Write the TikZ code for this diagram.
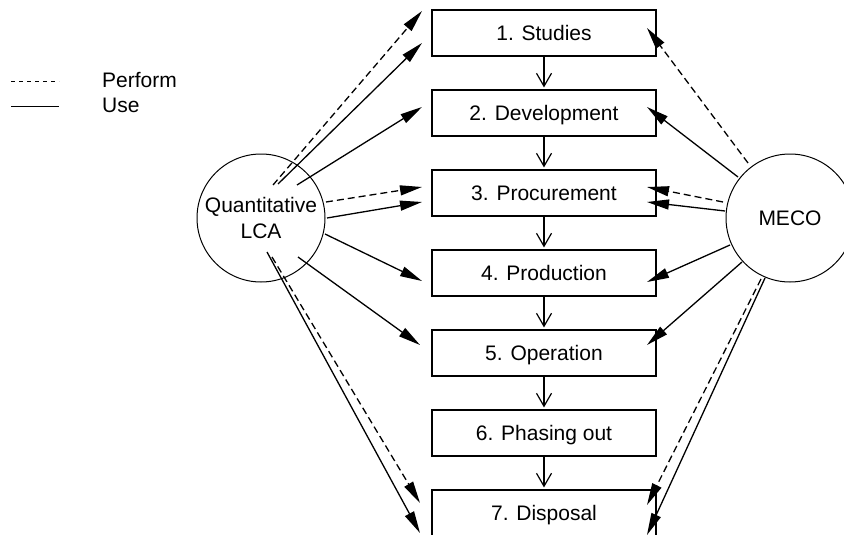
\documentclass[tikz,border=0pt]{standalone}
\usepackage{fontspec}
\setmainfont{Liberation Sans}
\usetikzlibrary{arrows.meta}
\begin{document}
\begin{tikzpicture}[x=1pt,y=-1pt,
  every node/.style={font=\fontsize{21}{25.5}\selectfont},
  stage/.style={draw, line width=1.1pt, minimum width=224pt, minimum height=46pt,
    inner sep=0pt, text height=15pt, text depth=0pt},
  method/.style={draw, circle, line width=1pt, minimum size=128pt, inner sep=0pt, align=center},
  flow/.style={line width=1.2pt, -{Straight Barb[length=13pt,width=15pt]}},
  use/.style={line width=1.3pt, -{Triangle[length=22pt,width=10pt]}},
  perform/.style={use, dash pattern=on 7pt off 4pt},
]
\useasboundingbox (0,0) rectangle (844,535);

% legend
\coordinate (lp1) at (11,82);  \coordinate (lp2) at (59,82);
\coordinate (lu1) at (11,107); \coordinate (lu2) at (59,107);
\draw[line width=1pt, dash pattern=on 4pt off 4pt] (lp1) -- (lp2);
\draw[line width=1pt] (lu1) -- (lu2);
\node[anchor=base west, inner sep=0pt] (lperf) at (102,88) {Perform};
\node[anchor=base west, inner sep=0pt] (luse) at (102,112) {Use};

% life-cycle stages
\node[stage] (s1) at (544,33)  {1. Studies};
\node[stage] (s2) at (544,113) {2. Development};
\node[stage] (s3) at (544,193) {3. Procurement};
\node[stage] (s4) at (544,273) {4. Production};
\node[stage] (s5) at (544,353) {5. Operation};
\node[stage] (s6) at (544,433) {6. Phasing out};
\node[stage] (s7) at (544,513) {7. Disposal};

\foreach \a/\b in {s1/s2,s2/s3,s3/s4,s4/s5,s5/s6,s6/s7}
  \draw[flow, shorten >=2pt] (\a.south) -- (\b.north);

% methods
\node[method] (lca) at (261,218) {Quantitative\\LCA};
\node[method] (meco) at (790,218) {MECO};

% Quantitative LCA connectors
\coordinate (qa1) at (273,185); \coordinate (qb1) at (422,11);
\coordinate (qa2) at (278,184); \coordinate (qb2) at (422,43);
\coordinate (qa3) at (297,185); \coordinate (qb3) at (422,107);
\coordinate (qa4) at (326,202); \coordinate (qb4) at (422,187);
\coordinate (qa5) at (327,218); \coordinate (qb5) at (422,202);
\coordinate (qa6) at (325,234); \coordinate (qb6) at (422,281);
\coordinate (qa7) at (298,257); \coordinate (qb7) at (420,345);
\coordinate (qa8) at (272,257); \coordinate (qb8) at (420,503);
\coordinate (qa9) at (267,252); \coordinate (qb9) at (420,533);
\draw[perform] (qa1) -- (qb1);
\draw[use]     (qa2) -- (qb2);
\draw[use]     (qa3) -- (qb3);
\draw[perform] (qa4) -- (qb4);
\draw[use]     (qa5) -- (qb5);
\draw[use]     (qa6) -- (qb6);
\draw[use]     (qa7) -- (qb7);
\draw[perform] (qa8) -- (qb8);
\draw[use]     (qa9) -- (qb9);

% MECO connectors
\coordinate (ma1) at (748,163); \coordinate (mb1) at (647,28);
\coordinate (ma2) at (738,177); \coordinate (mb2) at (647,107);
\coordinate (ma3) at (723,202); \coordinate (mb3) at (647,187);
\coordinate (ma4) at (725,211); \coordinate (mb4) at (647,202);
\coordinate (ma5) at (730,245); \coordinate (mb5) at (647,282);
\coordinate (ma6) at (742,262); \coordinate (mb6) at (647,345);
\coordinate (ma7) at (761,279); \coordinate (mb7) at (647,505);
\coordinate (ma8) at (765,278); \coordinate (mb8) at (647,535);
\draw[perform] (ma1) -- (mb1);
\draw[use]     (ma2) -- (mb2);
\draw[perform] (ma3) -- (mb3);
\draw[use]     (ma4) -- (mb4);
\draw[use]     (ma5) -- (mb5);
\draw[use]     (ma6) -- (mb6);
\draw[perform] (ma7) -- (mb7);
\draw[use]     (ma8) -- (mb8);
\end{tikzpicture}
\end{document}
